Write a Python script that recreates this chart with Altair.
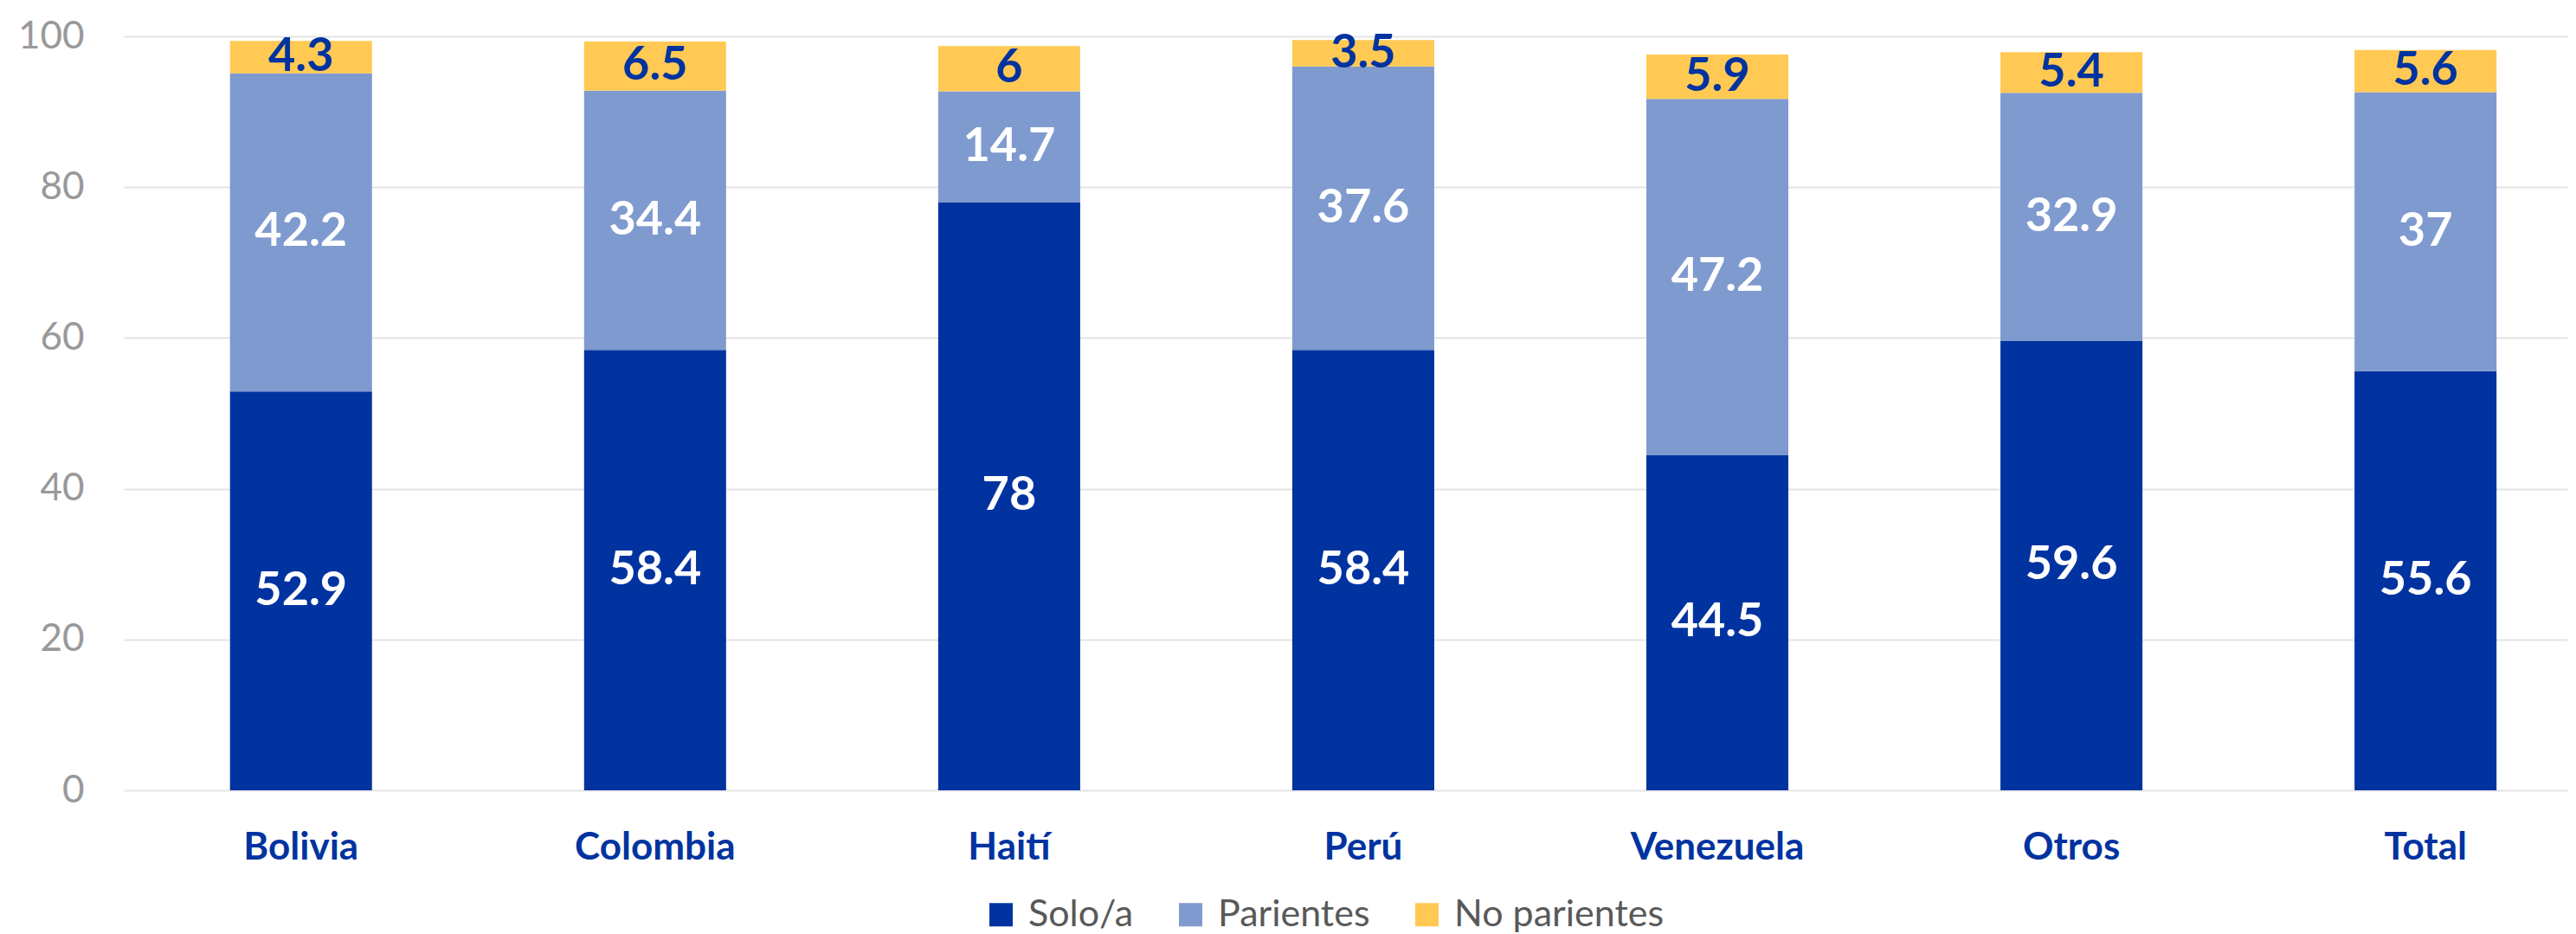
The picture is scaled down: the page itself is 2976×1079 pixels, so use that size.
import altair as alt
import pandas as pd

categories = ["Bolivia", "Colombia", "Haití", "Perú", "Venezuela", "Otros", "Total"]
series = ["Solo/a", "Parientes", "No parientes"]
solo = [52.9, 58.4, 78, 58.4, 44.5, 59.6, 55.6]
parientes = [42.2, 34.4, 14.7, 37.6, 47.2, 32.9, 37]
no_parientes = [4.3, 6.5, 6, 3.5, 5.9, 5.4, 5.6]
colors = ["#0033A0", "#7F9ACF", "#FFC954"]
label_colors = ["#FFFFFF", "#FFFFFF", "#0033A0"]
y_ticks = [0, 20, 40, 60, 80, 100]

rows = []
for i, c in enumerate(categories):
    for j, (s, vals) in enumerate(zip(series, [solo, parientes, no_parientes])):
        rows.append({"cat": c, "serie": s, "idx": j, "value": vals[i],
                     "label": f"{vals[i]:g}"})
df = pd.DataFrame(rows)

FONT = "Lato"

base = alt.Chart(df).transform_stack(
    stack="value", groupby=["cat"], as_=["v0", "v1"],
    sort=[alt.SortField("idx", order="ascending")]
).transform_calculate(mid="(datum.v0 + datum.v1) / 2")

xenc = alt.X("cat:N", sort=categories, title=None,
             scale=alt.Scale(paddingInner=0.599, paddingOuter=0.25, align=0.6),
             axis=alt.Axis(labelAngle=0, labelFont=FONT, labelFontSize=44,
                           labelFontWeight="bold", labelColor="#0033A0",
                           labelLimit=0,
                           ticks=False, domain=False, labelPadding=44, grid=False))

bars = base.mark_bar().encode(
    x=xenc,
    y=alt.Y("v0:Q", title=None,
            scale=alt.Scale(domain=[0, 100], nice=False),
            axis=alt.Axis(values=y_ticks, labelFont=FONT, labelFontSize=44,
                          labelColor="#999999", ticks=False, domain=False,
                          labelPadding=46, grid=True, gridColor="#E4E4E4",
                          gridWidth=2)),
    y2="v1:Q",
    color=alt.Color("serie:N", sort=series,
                    scale=alt.Scale(domain=series, range=colors),
                    legend=alt.Legend(title=None, orient="none", direction="horizontal",
                                      legendX=992, legendY=993,
                                      symbolType="square", symbolSize=729,
                                      symbolStrokeWidth=0, symbolOpacity=1,
                                      labelFont=FONT, labelFontSize=43,
                                      labelLimit=0,
                                      labelColor="#595959", labelOffset=10,
                                      columnPadding=44)),
)

labels = base.mark_text(font=FONT, fontSize=54, fontWeight="bold",
                        baseline="middle", align="center").encode(
    x=alt.X("cat:N", sort=categories),
    y=alt.Y("mid:Q"),
    text="label:N",
    color=alt.Color("serie:N", scale=alt.Scale(domain=series, range=label_colors),
                    legend=None),
)

chart = alt.layer(bars, labels).resolve_scale(color="independent").properties(
    width=2823, height=871,
    autosize=alt.AutoSizeParams(type="none"),
    padding={"left": 135, "top": 34, "right": 2, "bottom": 166},
).configure_view(stroke=None)

chart.save("out.html", embed_options={"renderer": "svg", "actions": False})
